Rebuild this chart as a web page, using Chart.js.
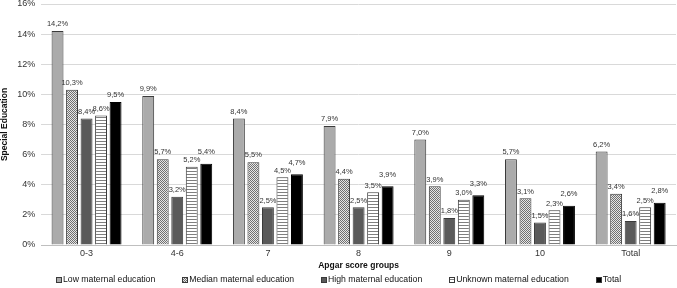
<!DOCTYPE html>
<html>
<head>
<meta charset="utf-8">
<script src="https://cdn.jsdelivr.net/npm/chart.js@4.4.1/dist/chart.umd.min.js"></script>
<style>
  html, body { margin: 0; padding: 0; background: #fff; }
  #wrap { width: 677px; height: 288px; }
</style>
</head>
<body>
<div id="wrap"><canvas id="chart"></canvas></div>
<script>
// Data
const groups = ["0-3", "4-6", "7", "8", "9", "10", "Total"];
const lowEdu = [14.2, 9.9, 8.4, 7.9, 7.0, 5.7, 6.2];
const medianEdu = [10.3, 5.7, 5.5, 4.4, 3.9, 3.1, 3.4];
const highEdu = [8.4, 3.2, 2.5, 2.5, 1.8, 1.5, 1.6];
const unknownEdu = [8.6, 5.2, 4.5, 3.5, 3.0, 2.3, 2.5];
const totalEdu = [9.5, 5.4, 4.7, 3.9, 3.3, 2.6, 2.8];
const yTicks = [0, 2, 4, 6, 8, 10, 12, 14, 16];

const FONT = "'Liberation Sans', Arial, sans-serif";

// small fill patterns
function makePattern(draw, size) {
  const c = document.createElement("canvas");
  c.width = size; c.height = size;
  draw(c.getContext("2d"));
  return c.getContext("2d").createPattern(c, "repeat");
}

const checker = makePattern(ctx => {
  ctx.fillStyle = "#e6e6e6";
  ctx.fillRect(0, 0, 2, 2);
  ctx.fillStyle = "#707070";
  ctx.fillRect(0, 0, 1, 1);
  ctx.fillRect(1, 1, 1, 1);
}, 2);

const stripes = makePattern(ctx => {
  ctx.fillStyle = "#ffffff";
  ctx.fillRect(0, 0, 3, 3);
  ctx.fillStyle = "#7f7f7f";
  ctx.fillRect(0, 0, 3, 1);
}, 3);

// value labels above bars, comma decimal
const barLabels = {
  id: "barLabels",
  afterDatasetsDraw(chart) {
    const ctx = chart.ctx;
    ctx.save();
    ctx.font = "7.5px " + FONT;
    ctx.fillStyle = "#333";
    ctx.textAlign = "center";
    ctx.textBaseline = "bottom";
    chart.data.datasets.forEach((ds, i) => {
      chart.getDatasetMeta(i).data.forEach((bar, j) => {
        const txt = ds.data[j].toFixed(1).replace(".", ",") + "%";
        let lift = 3;
        // nudge total label up when it sits next to a similar value
        if (i === 4 && Math.abs(ds.data[j] - chart.data.datasets[3].data[j]) < 0.5) lift = 8;
        ctx.fillText(txt, bar.x, bar.y - lift);
      });
    });
    ctx.restore();
  }
};

// legend row at the bottom (tight, like the original)
const bottomLegend = {
  id: "bottomLegend",
  afterDraw(chart) {
    const ctx = chart.ctx;
    const y = 280;
    const box = 6, gapText = 1, gapItem = 27;
    ctx.save();
    ctx.font = "8.7px " + FONT;
    ctx.textBaseline = "middle";
    const items = chart.data.datasets.map(ds => ({
      ds, w: box + gapText + ctx.measureText(ds.label).width
    }));
    const total = items.reduce((s, it) => s + it.w, 0) + gapItem * (items.length - 1);
    let x = Math.round((chart.width - total) / 2);
    items.forEach(it => {
      const bx = Math.round(x);
      ctx.fillStyle = it.ds.backgroundColor;
      ctx.fillRect(bx, y - box / 2, box, box);
      ctx.strokeStyle = "#3a3a3a";
      ctx.lineWidth = 1;
      ctx.strokeRect(bx + 0.5, y - box / 2 + 0.5, box - 1, box - 1);
      ctx.fillStyle = "#111";
      ctx.fillText(it.ds.label, x + box + gapText, y);
      x += it.w + gapItem;
    });
    ctx.restore();
  }
};

const borderCol = "#3a3a3a";

new Chart(document.getElementById("chart"), {
  type: "bar",
  data: {
    labels: groups,
    datasets: [
      { label: "Low maternal education", data: lowEdu, backgroundColor: "#ababab", borderColor: borderCol, borderWidth: 1 },
      { label: "Median maternal education", data: medianEdu, backgroundColor: checker, borderColor: borderCol, borderWidth: 1 },
      { label: "High maternal education", data: highEdu, backgroundColor: "#5a5a5a", borderColor: borderCol, borderWidth: 1 },
      { label: "Unknown maternal education", data: unknownEdu, backgroundColor: stripes, borderColor: borderCol, borderWidth: 1 },
      { label: "Total", data: totalEdu, backgroundColor: "#000000", borderColor: "#000000", borderWidth: 1 }
    ]
  },
  options: {
    responsive: true,
    maintainAspectRatio: false,
    animation: false,
    layout: { padding: { top: 4, right: 1, left: 0, bottom: 17 } },
    datasets: { bar: { categoryPercentage: 0.8, barPercentage: 0.82 } },
    plugins: {
      legend: { display: false },
      tooltip: { enabled: false }
    },
    scales: {
      x: {
        grid: { display: false, drawTicks: false },
        border: { color: "#bfbfbf" },
        ticks: { font: { family: FONT, size: 9 }, color: "#333", padding: 3 },
        title: { display: true, text: "Apgar score groups", font: { family: FONT, size: 8.5, weight: "bold" }, color: "#111", padding: { top: -1, bottom: 0 } }
      },
      y: {
        min: 0,
        max: 16,
        afterBuildTicks: axis => { axis.ticks = yTicks.map(v => ({ value: v })); },
        afterFit: axis => { axis.paddingTop = 0; axis.paddingBottom = 0; },
        grid: { color: "#d9d9d9", drawTicks: false },
        border: { display: false },
        ticks: { font: { family: FONT, size: 9 }, color: "#333", padding: 6, callback: v => v + "%" },
        title: { display: true, text: "Special Education", font: { family: FONT, size: 8.5, weight: "bold" }, color: "#111", padding: { top: 0, bottom: 1 } }
      }
    }
  },
  plugins: [barLabels, bottomLegend]
});
</script>
</body>
</html>
